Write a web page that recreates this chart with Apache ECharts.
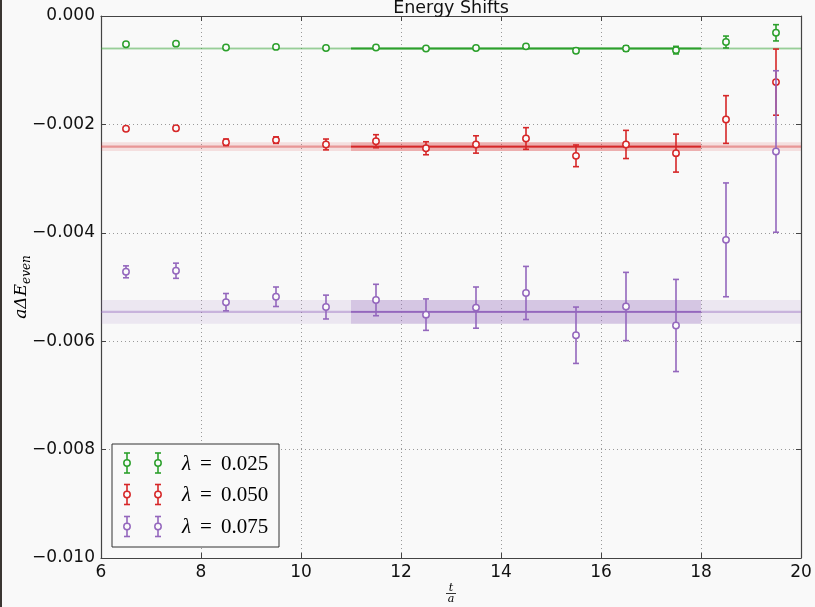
<!DOCTYPE html>
<html>
<head>
<meta charset="utf-8">
<script src="https://cdn.jsdelivr.net/npm/echarts@6/dist/echarts.min.js"></script>
<style>
  html, body { margin: 0; padding: 0; background: #f9f9f9; }
  #chart { width: 815px; height: 607px; }
</style>
</head>
<body>
<div id="chart"></div>
<script>
// Time slices t/a
const tValues = [6.5, 7.5, 8.5, 9.5, 10.5, 11.5, 12.5, 13.5, 14.5, 15.5, 16.5, 17.5, 18.5, 19.5];

// lambda = 0.025
const shift025 = [-0.00052, -0.00051, -0.00058, -0.00057, -0.00059, -0.00058, -0.00060, -0.00059, -0.00056, -0.00064, -0.00060, -0.00063, -0.00048, -0.00031];
const err025   = [0.00001, 0.00001, 0.00002, 0.00002, 0.00002, 0.00002, 0.00002, 0.00002, 0.00003, 0.00004, 0.00005, 0.00007, 0.00011, 0.00015];

// lambda = 0.050
const shift050 = [-0.00208, -0.00207, -0.00233, -0.00229, -0.00237, -0.00231, -0.00244, -0.00237, -0.00226, -0.00258, -0.00237, -0.00253, -0.00191, -0.00122];
const err050   = [0.00003, 0.00004, 0.00006, 0.00006, 0.00010, 0.00012, 0.00012, 0.00016, 0.00020, 0.00020, 0.00026, 0.00035, 0.00044, 0.00061];

// lambda = 0.075
const shift075 = [-0.00472, -0.00470, -0.00528, -0.00518, -0.00537, -0.00524, -0.00551, -0.00538, -0.00511, -0.00589, -0.00536, -0.00571, -0.00413, -0.00250];
const err075   = [0.00011, 0.00014, 0.00016, 0.00018, 0.00022, 0.00029, 0.00029, 0.00038, 0.00049, 0.00052, 0.00063, 0.00085, 0.00105, 0.00149];

// Plateau fits: central value and uncertainty
const fit025 = [-0.00060, 0.00001];
const fit050 = [-0.00241, 0.00008];
const fit075 = [-0.00546, 0.00022];
const fitWindow = [11, 18];
const fullRange = [6, 20];

const legendLabels = ['0.025', '0.050', '0.075'];
const colors = ['#2ca02c', '#d62728', '#9467bd'];

const yTicks = [-0.010, -0.008, -0.006, -0.004, -0.002, 0.000];
const xTicks = [6, 8, 10, 12, 14, 16, 18, 20];

const BG = '#f9f9f9';

function errorbarRender(color) {
  return function (params, api) {
    const x = api.value(0), y = api.value(1), e = api.value(2);
    const c = api.coord([x, y]);
    const top = api.coord([x, y + e]);
    const bot = api.coord([x, y - e]);
    const cap = 3;
    const st = { stroke: color, lineWidth: 1.6 };
    return {
      type: 'group',
      children: [
        { type: 'line', shape: { x1: c[0], y1: top[1], x2: c[0], y2: bot[1] }, style: st },
        { type: 'line', shape: { x1: c[0] - cap, y1: top[1], x2: c[0] + cap, y2: top[1] }, style: st },
        { type: 'line', shape: { x1: c[0] - cap, y1: bot[1], x2: c[0] + cap, y2: bot[1] }, style: st },
        { type: 'circle', shape: { cx: c[0], cy: c[1], r: 3.2 }, style: { fill: '#fbfbfb', stroke: color, lineWidth: 1.5 } }
      ]
    };
  };
}

function bandRender(color) {
  return function (params, api) {
    const x0 = api.value(0), x1 = api.value(1), m = api.value(2), h = api.value(3);
    const dark = params.dataIndex === 1;
    const a = api.coord([x0, m + h]);
    const b = api.coord([x1, m - h]);
    const mid = api.coord([x0, m]);
    const mid2 = api.coord([x1, m]);
    return {
      type: 'group',
      children: [
        { type: 'rect', shape: { x: a[0], y: a[1], width: b[0] - a[0], height: Math.max(b[1] - a[1], 1) },
          style: { fill: color, opacity: dark ? 0.26 : 0.12 } },
        { type: 'line', shape: { x1: mid[0], y1: mid[1], x2: mid2[0], y2: mid2[1] },
          style: { stroke: color, lineWidth: dark ? 1.8 : 2.2, opacity: dark ? 1 : 0.4 } }
      ]
    };
  };
}

const groups = [
  { vals: shift025, errs: err025, fit: fit025 },
  { vals: shift050, errs: err050, fit: fit050 },
  { vals: shift075, errs: err075, fit: fit075 }
];

const series = [];
groups.forEach((g, i) => {
  series.push({
    type: 'custom',
    name: 'fit' + i,
    renderItem: bandRender(colors[i]),
    encode: { x: [0, 1], y: [2] },
    data: [
      [fullRange[0], fullRange[1], g.fit[0], g.fit[1]],
      [fitWindow[0], fitWindow[1], g.fit[0], g.fit[1]]
    ],
    z: 1,
    silent: true
  });
});
groups.forEach((g, i) => {
  series.push({
    type: 'custom',
    name: 'λ = ' + legendLabels[i],
    renderItem: errorbarRender(colors[i]),
    encode: { x: 0, y: 1 },
    data: tValues.map((t, k) => [t, g.vals[k], g.errs[k]]),
    z: 3
  });
});

// Legend drawn as a framed box with error-bar glyphs
const legendGraphic = [];
const lgX = 112, lgY = 444, lgW = 167, lgH = 103;
legendGraphic.push({ type: 'rect', shape: { x: lgX, y: lgY, width: lgW, height: lgH },
  style: { fill: BG, stroke: '#333', lineWidth: 1 }, z: 100 });
const rowY = [463, 494.5, 526.5];
legendLabels.forEach((lab, i) => {
  [127, 158].forEach(mx => {
    const st = { stroke: colors[i], lineWidth: 1.6 };
    legendGraphic.push({ type: 'line', shape: { x1: mx, y1: rowY[i] - 10, x2: mx, y2: rowY[i] + 10 }, style: st, z: 101 });
    legendGraphic.push({ type: 'line', shape: { x1: mx - 3, y1: rowY[i] - 10, x2: mx + 3, y2: rowY[i] - 10 }, style: st, z: 101 });
    legendGraphic.push({ type: 'line', shape: { x1: mx - 3, y1: rowY[i] + 10, x2: mx + 3, y2: rowY[i] + 10 }, style: st, z: 101 });
    legendGraphic.push({ type: 'circle', shape: { cx: mx, cy: rowY[i], r: 3.2 },
      style: { fill: '#fbfbfb', stroke: colors[i], lineWidth: 1.5 }, z: 102 });
  });
  legendGraphic.push({
    type: 'text', x: 182, y: rowY[i] + 1, z: 102,
    style: {
      text: '{l|λ}{e|=}{n|' + lab + '}',
      rich: {
        l: { fontFamily: 'Liberation Serif', fontStyle: 'italic', fontSize: 21, fill: '#000' },
        e: { fontFamily: 'Liberation Serif', fontSize: 21, fill: '#000', padding: [0, 9, 0, 9] },
        n: { fontFamily: 'Liberation Serif', fontSize: 21, fill: '#000' }
      },
      verticalAlign: 'middle', align: 'left'
    }
  });
});

const chart = echarts.init(document.getElementById('chart'));
chart.setOption({
  backgroundColor: BG,
  animation: false,
  title: {
    text: 'Energy Shifts',
    left: 446, top: -6, textAlign: 'center',
    textStyle: { fontFamily: 'DejaVu Sans', fontSize: 17.5, fontWeight: 'normal', color: '#111' }
  },
  grid: { left: 101, right: 14, top: 16, bottom: 49, show: false },
  xAxis: [
    {
      type: 'value', min: xTicks[0], max: xTicks[xTicks.length - 1], interval: 2, position: 'bottom',
      axisLine: { show: true, onZero: false, lineStyle: { color: '#444', width: 1.2 } },
      axisTick: { show: true, inside: true, length: 5, lineStyle: { color: '#444' } },
      axisLabel: { color: '#111', fontFamily: 'DejaVu Sans', fontSize: 17, margin: 6 },
      splitLine: { show: true, lineStyle: { color: '#9a9a9a', type: [1, 3], width: 1 } }
    },
    {
      type: 'value', min: xTicks[0], max: xTicks[xTicks.length - 1], interval: 2, position: 'top',
      axisLine: { show: true, onZero: false, lineStyle: { color: '#444', width: 1.2 } },
      axisTick: { show: true, inside: true, length: 5, lineStyle: { color: '#444' } },
      axisLabel: { show: false }, splitLine: { show: false }
    }
  ],
  yAxis: [
    {
      type: 'value', min: yTicks[0], max: yTicks[yTicks.length - 1], interval: 0.002, position: 'left',
      axisLine: { show: true, onZero: false, lineStyle: { color: '#444', width: 1.2 } },
      axisTick: { show: true, inside: true, length: 5, lineStyle: { color: '#444' } },
      axisLabel: {
        color: '#111', fontFamily: 'DejaVu Sans', fontSize: 17, margin: 6,
        formatter: v => (v < -1e-12 ? '\u2212' : '') + Math.abs(v).toFixed(3)
      },
      splitLine: { show: true, lineStyle: { color: '#9a9a9a', type: [1, 3], width: 1 } }
    },
    {
      type: 'value', min: yTicks[0], max: yTicks[yTicks.length - 1], interval: 0.002, position: 'right',
      axisLine: { show: true, onZero: false, lineStyle: { color: '#444', width: 1.2 } },
      axisTick: { show: true, inside: true, length: 5, lineStyle: { color: '#444' } },
      axisLabel: { show: false }, splitLine: { show: false }
    }
  ],
  series: series,
  graphic: [
    // dark frame edge on the left side of the canvas
    { type: 'rect', shape: { x: 0, y: 0, width: 2, height: 607 }, style: { fill: '#3b3632' }, z: 200 },
    // y-axis label: a ΔE_even
    {
      type: 'text', x: 22, y: 287, rotation: Math.PI / 2, z: 50,
      style: {
        text: '{m|aΔE}{s|even}',
        rich: {
          m: { fontFamily: 'DejaVu Serif', fontStyle: 'italic', fontSize: 17, fill: '#000', lineHeight: 22 },
          s: { fontFamily: 'DejaVu Serif', fontStyle: 'italic', fontSize: 12, fill: '#000', padding: [10, 0, 0, 0], lineHeight: 22 }
        },
        align: 'center', verticalAlign: 'middle'
      }
    },
    // x-axis label: t / a as a fraction
    { type: 'text', x: 451, y: 588, z: 50,
      style: { text: 't', fontFamily: 'DejaVu Serif', fontStyle: 'italic', fontSize: 11, fill: '#000', align: 'center', verticalAlign: 'middle' } },
    { type: 'line', shape: { x1: 446, y1: 593.5, x2: 456, y2: 593.5 }, style: { stroke: '#000', lineWidth: 0.8 }, z: 50 },
    { type: 'text', x: 451, y: 599.5, z: 50,
      style: { text: 'a', fontFamily: 'DejaVu Serif', fontStyle: 'italic', fontSize: 11, fill: '#000', align: 'center', verticalAlign: 'middle' } }
  ].concat(legendGraphic)
});
</script>
</body>
</html>
